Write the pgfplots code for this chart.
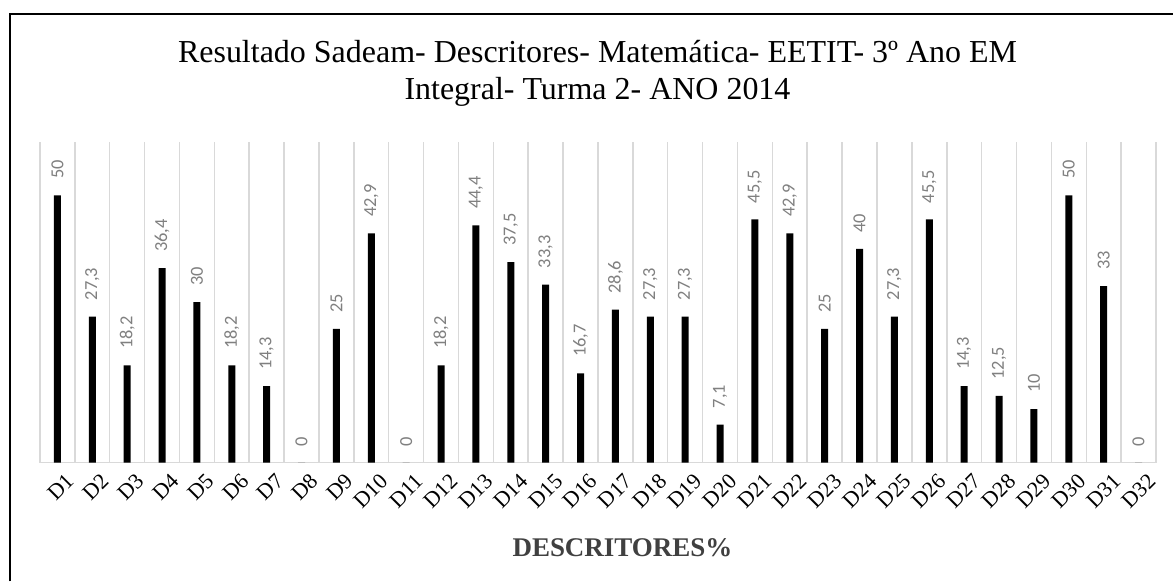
\documentclass[border=0pt]{standalone}
\usepackage{fontspec}
\setmainfont{Liberation Serif}
\newfontfamily\calibri{Carlito}
\usepackage{pgfplots}
\pgfplotsset{compat=1.18}
\definecolor{gridgray}{RGB}{217,217,217}
\definecolor{lblgray}{RGB}{128,128,128}
\definecolor{xlab}{RGB}{64,64,64}

\pgfplotstableread{
x y
1 50
2 27.3
3 18.2
4 36.4
5 30
6 18.2
7 14.3
8 0
9 25
10 42.9
11 0
12 18.2
13 44.4
14 37.5
15 33.3
16 16.7
17 28.6
18 27.3
19 27.3
20 7.1
21 45.5
22 42.9
23 25
24 40
25 27.3
26 45.5
27 14.3
28 12.5
29 10
30 50
31 33
32 0
}\descr

\begin{document}
\begin{tikzpicture}
% canvas: 1174x582 px at 0.5pt per px
\path[fill=white] (0,0) rectangle (587pt,291pt);
\draw[line width=1pt] (5pt,0) -- (5pt,284pt) -- (587pt,284pt);

\node[anchor=base, font=\fontsize{16}{19}\selectfont] at (299pt,259.5pt)
  {Resultado Sadeam- Descritores- Matemática- EETIT- 3º Ano EM};
\node[anchor=base, font=\fontsize{16}{19}\selectfont] at (299pt,241pt)
  {Integral- Turma 2- ANO 2014};

\begin{axis}[
  at={(20pt,59.5pt)}, anchor=origin,
  scale only axis,
  width=558.5pt, height=160.5pt,
  xmin=0.5, xmax=32.5, ymin=0, ymax=60,
  axis x line*=bottom, axis y line=none,
  x axis line style={-, draw=gridgray, line width=0.75pt},
  xtick={1,...,32},
  xticklabels={D1,D2,D3,D4,D5,D6,D7,D8,D9,D10,D11,D12,D13,D14,D15,D16,
               D17,D18,D19,D20,D21,D22,D23,D24,D25,D26,D27,D28,D29,D30,D31,D32},
  minor xtick={0.5,1.5,...,32.5},
  xminorgrids=true,
  minor grid style={draw=gridgray, line width=0.75pt},
  major tick length=0pt, minor tick length=0pt,
  xticklabel style={font=\fontsize{11}{13}\selectfont, rotate=45, anchor=east,
                    inner sep=0pt, yshift=-10pt, xshift=-0.5pt},
  ybar, bar width=3.5pt,
  nodes near coords,
  /pgf/number format/use comma,
  /pgf/number format/assume math mode=true,
  every node near coord/.append style={yshift=8pt, rotate=90, anchor=west,
    inner sep=0pt, font=\calibri\fontsize{9.2}{11}\selectfont, text=lblgray},
  clip=false,
]
  \addplot[fill=black, draw=none] table[x=x, y=y] {\descr};
\end{axis}

\node[anchor=base, font=\bfseries\fontsize{13.5}{16}\selectfont, text=xlab]
  at (311.5pt,12.5pt) {DESCRITORES\%};
\end{tikzpicture}
\end{document}
